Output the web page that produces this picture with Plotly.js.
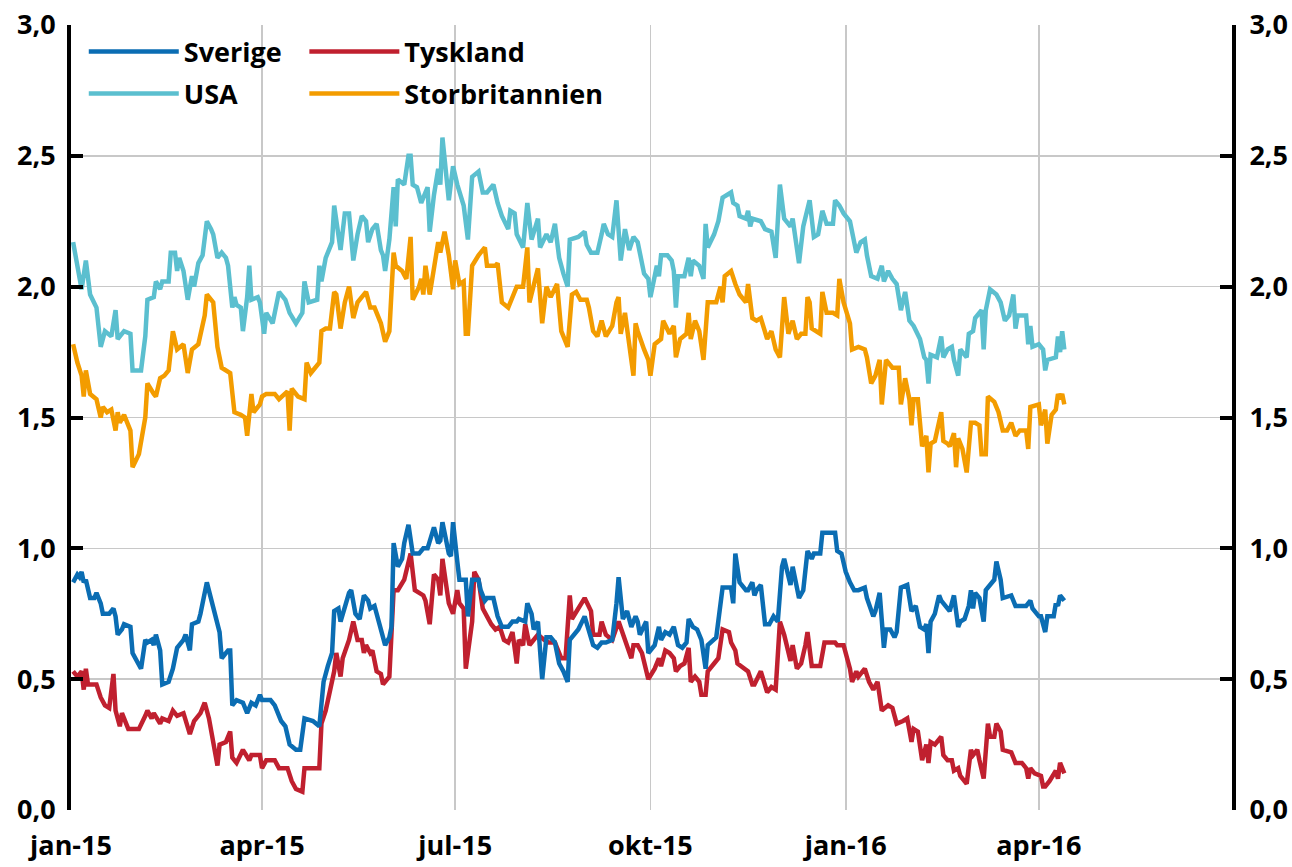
<!DOCTYPE html>
<html><head><meta charset="utf-8">
<script src="https://cdn.plot.ly/plotly-3.0.1.min.js"></script>
<style>html,body{margin:0;padding:0;background:#fff}#chart{width:1292px;height:867px}</style>
</head><body><div id="chart"></div>
<script>
// Day offsets counted from 2015-01-01, values in percent
const startDate = Date.UTC(2015, 0, 1);
const seriesNames = ['Sverige', 'Tyskland', 'USA', 'Storbritannien'];
const seriesColors = ['#0b6db3', '#c0202f', '#5bbfcf', '#f39c00'];
const tickDates = ['2015-01-01', '2015-04-01', '2015-07-01', '2015-10-01', '2016-01-01', '2016-04-01'];
const tickLabels = ['jan-15', 'apr-15', 'jul-15', 'okt-15', 'jan-16', 'apr-16'];
const yTicks = [0, 0.5, 1, 1.5, 2, 2.5, 3];

const usaDay = [
1,3,5,7,9,12,14,16,19,21,
22,25,28,29,33,35,36,39,40,42,
43,46,47,49,50,51,53,55,57,58,
60,62,64,66,67,69,71,73,74,76,
77,78,80,81,83,84,85,88,89,91,
92,95,98,101,103,106,109,110,112,116,
117,118,120,123,124,127,129,131,133,135,
137,139,140,142,144,146,147,148,150,152,
153,154,157,159,160,161,163,165,168,169,
171,173,174,175,177,178,180,182,185,187,
189,192,194,196,199,201,203,206,207,209,
210,213,215,217,220,221,224,226,228,230,
232,234,235,239,242,243,245,248,250,251,
253,255,257,259,261,263,265,267,270,272,
273,275,276,277,278,281,283,284,285,286,
289,291,292,293,296,298,299,300,303,305,
307,311,312,314,315,318,319,320,321,325,
327,330,332,334,336,339,340,343,345,348,
350,352,354,356,359,360,362,364,367,370,
372,374,375,377,380,382,383,385,387,389,
391,393,395,397,400,402,403,404,405,408,
410,411,413,415,416,418,419,422,423,425,
426,429,430,431,433,436,438,440,442,444,
445,446,450,451,452,453,456,458,459,460,
464,465,466,467,468];
const usaVal = [
2.17,2.09,1.99,2.10,1.97,1.92,1.77,1.83,1.81,1.91,
1.80,1.83,1.82,1.68,1.68,1.81,1.95,1.96,2.02,1.99,
2.02,2.02,2.13,2.13,2.06,2.11,2.06,1.95,2.04,2.00,
2.09,2.12,2.25,2.22,2.20,2.11,2.13,2.11,2.08,1.92,
1.96,1.93,1.92,1.83,1.96,2.08,1.95,1.96,1.94,1.82,
1.90,1.86,1.98,1.95,1.90,1.86,1.90,2.02,1.94,1.95,
2.08,2.02,2.11,2.17,2.31,2.14,2.28,2.28,2.10,2.20,
2.27,2.25,2.17,2.22,2.24,2.14,2.12,2.06,2.18,2.38,
2.23,2.41,2.39,2.50,2.50,2.39,2.38,2.32,2.38,2.21,
2.35,2.45,2.39,2.57,2.42,2.33,2.46,2.39,2.31,2.18,
2.42,2.44,2.36,2.36,2.39,2.32,2.27,2.22,2.29,2.28,
2.20,2.15,2.32,2.18,2.26,2.15,2.20,2.17,2.24,2.11,
2.05,2.00,2.18,2.19,2.21,2.16,2.13,2.13,2.20,2.24,
2.20,2.19,2.33,2.10,2.22,2.14,2.19,2.17,2.05,2.03,
1.96,2.04,2.08,2.04,2.12,2.12,2.10,2.06,1.92,2.04,
2.04,2.11,2.04,2.10,2.08,2.03,2.24,2.15,2.20,2.25,
2.34,2.36,2.32,2.31,2.27,2.26,2.29,2.23,2.26,2.25,
2.22,2.21,2.11,2.39,2.26,2.23,2.26,2.09,2.23,2.33,
2.19,2.20,2.29,2.24,2.24,2.33,2.31,2.28,2.25,2.13,
2.17,2.18,2.12,2.04,2.03,2.08,2.02,2.06,2.03,2.01,
1.91,1.98,1.87,1.85,1.80,1.73,1.72,1.63,1.74,1.73,
1.81,1.73,1.76,1.77,1.72,1.66,1.76,1.73,1.82,1.83,
1.88,1.91,1.76,1.91,1.99,1.97,1.94,1.87,1.89,1.97,
1.84,1.89,1.89,1.78,1.85,1.77,1.78,1.76,1.68,1.72,
1.73,1.81,1.75,1.83,1.76];

const ukDay = [
1,3,5,6,7,9,12,14,15,17,
19,21,22,23,25,28,29,32,35,36,
39,40,42,44,46,48,50,53,55,57,
60,63,64,67,69,71,75,77,80,82,
83,85,86,89,90,92,96,98,102,103,
104,107,110,111,113,115,117,118,120,122,
124,125,127,129,131,133,135,139,141,143,
146,148,150,152,153,156,158,160,161,164,
165,166,167,169,171,173,174,176,178,180,
181,183,185,186,187,189,192,195,196,200,
201,203,206,208,210,213,215,216,218,220,
222,224,226,229,231,234,236,238,240,243,
244,246,248,250,252,255,257,258,259,261,
263,265,266,267,270,272,273,275,278,279,
282,284,285,287,290,291,292,294,296,298,
300,301,304,306,307,308,311,313,315,318,
319,321,323,325,328,330,332,334,336,338,
340,342,344,346,347,348,349,353,354,356,
359,361,362,364,367,368,371,374,375,377,
379,381,382,384,387,390,391,393,395,396,
397,399,401,403,404,405,407,410,411,413,
414,416,417,418,420,422,424,426,428,429,
431,432,435,437,439,441,443,445,447,450,
451,452,456,457,459,460,462,464,465,466,
467,468];
const ukVal = [
1.78,1.71,1.66,1.58,1.68,1.59,1.57,1.50,1.54,1.52,
1.53,1.45,1.52,1.48,1.51,1.45,1.31,1.36,1.50,1.63,
1.59,1.58,1.65,1.66,1.68,1.83,1.76,1.78,1.67,1.76,
1.78,1.89,1.97,1.94,1.77,1.69,1.67,1.52,1.51,1.50,
1.43,1.59,1.52,1.55,1.58,1.59,1.59,1.57,1.60,1.45,
1.61,1.58,1.57,1.71,1.67,1.69,1.71,1.83,1.84,1.84,
1.98,1.97,1.84,1.94,2.00,1.88,1.94,1.98,1.92,1.92,
1.86,1.79,1.83,2.13,2.08,2.06,2.03,2.19,1.95,2.00,
2.03,1.97,2.08,1.97,2.08,2.17,2.13,2.21,2.12,1.99,
2.10,2.01,2.02,1.82,1.82,2.08,2.12,2.15,2.08,2.08,
2.09,1.94,1.92,1.96,2.00,2.00,2.15,1.94,2.00,2.07,
1.86,2.00,1.96,2.01,1.83,1.77,1.97,1.98,1.95,1.95,
1.92,1.83,1.81,1.87,1.81,1.85,1.94,1.96,1.82,1.90,
1.78,1.66,1.86,1.83,1.76,1.72,1.66,1.78,1.80,1.87,
1.82,1.85,1.73,1.80,1.82,1.90,1.80,1.87,1.83,1.72,
1.94,1.94,1.94,2.00,1.94,2.04,2.06,2.01,1.97,1.94,
2.01,1.88,1.87,1.88,1.80,1.83,1.76,1.73,1.96,1.82,
1.87,1.80,1.82,1.82,1.96,1.94,1.84,1.82,1.98,1.90,
1.90,1.89,2.03,1.94,1.86,1.76,1.77,1.76,1.73,1.63,
1.66,1.72,1.55,1.72,1.69,1.69,1.55,1.65,1.57,1.47,
1.57,1.57,1.39,1.43,1.29,1.40,1.41,1.52,1.41,1.40,
1.39,1.44,1.31,1.42,1.38,1.29,1.48,1.48,1.47,1.36,
1.36,1.58,1.56,1.52,1.45,1.45,1.48,1.43,1.45,1.45,
1.38,1.54,1.55,1.47,1.53,1.40,1.51,1.53,1.59,1.57,
1.59,1.55];

const sverigeDay = [
1,3,4,5,6,7,9,11,12,14,
15,18,20,21,22,24,25,28,29,31,
33,35,36,38,39,40,42,43,46,48,
50,53,54,56,57,60,61,64,66,68,
70,71,74,75,76,78,81,83,85,87,
89,90,94,96,99,101,103,106,108,110,
114,117,118,119,121,123,124,126,127,129,
131,132,134,136,138,140,141,143,145,146,
148,150,151,152,154,156,157,159,161,164,
166,168,171,173,174,175,177,178,179,180,
182,183,186,187,189,192,193,195,196,199,
201,203,206,208,210,211,214,215,217,218,
220,222,224,226,228,230,232,234,235,239,
242,244,246,248,250,252,255,257,258,260,
262,264,266,267,268,271,272,275,277,278,
280,282,284,286,288,290,291,293,295,297,
299,300,303,304,307,311,312,313,315,318,
319,321,322,323,325,327,329,331,333,335,
336,339,340,343,345,347,349,350,353,354,
360,361,363,365,367,369,371,374,375,378,
379,381,383,384,386,388,389,391,394,396,
398,400,402,403,404,405,407,409,410,413,
414,416,418,419,421,423,424,425,426,428,
430,431,433,435,436,438,439,442,443,445,
448,450,452,453,456,457,459,460,463,464,
465,466,468];
const sverigeVal = [
0.87,0.90,0.89,0.91,0.87,0.88,0.81,0.81,0.83,0.79,
0.75,0.75,0.77,0.74,0.67,0.69,0.71,0.70,0.60,0.57,
0.54,0.65,0.64,0.65,0.63,0.67,0.61,0.48,0.49,0.54,
0.62,0.65,0.67,0.61,0.71,0.72,0.75,0.87,0.81,0.74,
0.68,0.58,0.61,0.61,0.40,0.42,0.41,0.37,0.41,0.40,
0.44,0.42,0.42,0.40,0.34,0.32,0.25,0.23,0.23,0.35,
0.34,0.32,0.43,0.49,0.55,0.60,0.76,0.77,0.72,0.77,
0.83,0.84,0.75,0.73,0.82,0.80,0.77,0.78,0.72,0.70,
0.63,0.66,0.70,1.02,0.93,0.96,1.02,1.09,0.98,0.98,
1.00,1.00,1.08,1.02,1.03,1.10,1.02,0.98,0.97,1.10,
0.95,0.88,0.88,0.74,0.88,0.88,0.84,0.80,0.81,0.81,
0.74,0.70,0.70,0.72,0.72,0.73,0.72,0.79,0.75,0.69,
0.72,0.50,0.66,0.66,0.64,0.56,0.53,0.49,0.65,0.69,
0.74,0.69,0.63,0.62,0.64,0.64,0.65,0.79,0.89,0.73,
0.76,0.70,0.74,0.72,0.67,0.72,0.60,0.63,0.70,0.65,
0.68,0.67,0.70,0.63,0.62,0.64,0.73,0.70,0.69,0.65,
0.54,0.63,0.65,0.66,0.85,0.85,0.79,0.98,0.87,0.84,
0.84,0.87,0.82,0.84,0.86,0.71,0.71,0.74,0.72,0.93,
0.96,0.86,0.93,0.81,0.84,0.99,0.96,0.98,0.98,1.06,
1.06,0.99,0.98,0.91,0.87,0.84,0.84,0.85,0.81,0.74,
0.76,0.83,0.62,0.69,0.69,0.66,0.68,0.85,0.86,0.76,
0.78,0.70,0.69,0.71,0.60,0.72,0.75,0.82,0.80,0.77,
0.76,0.82,0.70,0.72,0.73,0.78,0.84,0.77,0.83,0.81,
0.72,0.84,0.86,0.88,0.95,0.88,0.81,0.82,0.82,0.78,
0.78,0.78,0.80,0.77,0.74,0.74,0.68,0.74,0.74,0.79,
0.78,0.82,0.80];

const tysklandDay = [
1,3,5,6,7,8,12,14,16,18,
20,21,23,24,27,32,35,36,38,39,
42,43,46,48,50,53,56,58,61,63,
65,67,69,70,73,75,76,78,81,84,
85,89,90,92,96,98,102,104,106,109,
110,117,118,120,122,124,125,127,128,131,
133,135,137,138,139,141,142,144,146,147,
150,152,154,157,160,162,166,167,169,171,
173,174,175,177,178,180,182,183,185,186,
189,190,192,194,196,198,200,202,204,206,
208,210,211,213,214,216,217,220,223,225,
228,231,233,235,236,239,242,245,246,249,
250,252,255,258,260,262,264,265,267,269,
272,275,277,278,280,282,284,285,287,289,
291,292,294,296,297,299,300,303,305,307,
310,311,313,314,317,319,321,322,325,328,
330,332,334,336,339,340,342,344,346,347,
349,353,355,360,361,364,367,368,370,371,
374,376,378,380,382,385,387,389,392,394,
396,397,399,401,403,404,405,407,408,410,
411,413,415,416,418,419,422,424,425,427,
428,430,432,433,435,436,438,439,443,445,
448,450,451,452,454,457,458,459,461,464,
465,466,468];
const tysklandVal = [
0.53,0.51,0.53,0.46,0.54,0.48,0.48,0.43,0.40,0.39,
0.52,0.38,0.32,0.37,0.31,0.31,0.36,0.38,0.35,0.37,
0.33,0.35,0.34,0.38,0.36,0.37,0.29,0.34,0.37,0.41,
0.35,0.25,0.17,0.25,0.26,0.30,0.20,0.18,0.23,0.19,
0.21,0.21,0.16,0.19,0.19,0.16,0.16,0.11,0.08,0.07,
0.16,0.16,0.33,0.38,0.45,0.53,0.60,0.51,0.58,0.65,
0.72,0.65,0.65,0.60,0.63,0.60,0.61,0.53,0.52,0.48,
0.51,0.84,0.84,0.88,0.98,0.84,0.82,0.80,0.71,0.90,
0.88,0.82,0.96,0.86,0.79,0.75,0.84,0.79,0.77,0.54,
0.72,0.91,0.88,0.77,0.74,0.71,0.69,0.70,0.65,0.64,
0.68,0.56,0.65,0.63,0.71,0.63,0.64,0.67,0.65,0.64,
0.64,0.58,0.58,0.82,0.73,0.77,0.81,0.76,0.67,0.67,
0.72,0.67,0.65,0.72,0.67,0.63,0.58,0.63,0.63,0.60,
0.50,0.54,0.58,0.55,0.61,0.60,0.58,0.53,0.55,0.56,
0.62,0.49,0.51,0.49,0.44,0.44,0.53,0.56,0.58,0.69,
0.68,0.64,0.61,0.56,0.54,0.53,0.48,0.48,0.53,0.45,
0.47,0.46,0.72,0.67,0.57,0.63,0.54,0.56,0.63,0.68,
0.55,0.55,0.64,0.64,0.63,0.63,0.54,0.49,0.53,0.51,
0.54,0.49,0.46,0.49,0.38,0.40,0.39,0.33,0.34,0.35,
0.26,0.31,0.30,0.19,0.25,0.18,0.26,0.25,0.26,0.28,
0.21,0.19,0.19,0.15,0.16,0.13,0.10,0.23,0.21,0.23,
0.19,0.12,0.33,0.28,0.28,0.33,0.30,0.23,0.22,0.18,
0.18,0.16,0.12,0.16,0.14,0.13,0.09,0.09,0.11,0.15,
0.12,0.18,0.14];

function toDate(d) { return new Date(startDate + d * 86400000).toISOString().slice(0, 10); }

const fontFamily = '"Open Sans", "DejaVu Sans", sans-serif';
const textFont = { family: fontFamily, size: 27, color: '#000', weight: 700 };

function lineTrace(i, days, vals, legendId, rank) {
  return {
    type: 'scatter', mode: 'lines', name: seriesNames[i],
    x: days.map(toDate), y: vals,
    line: { color: seriesColors[i], width: 4.5 },
    legend: legendId, legendgroup: seriesNames[i], legendrank: rank,
    hoverinfo: 'skip'
  };
}

const traces = [
  lineTrace(3, ukDay, ukVal, 'legend2', 2),
  lineTrace(2, usaDay, usaVal, 'legend', 2),
  lineTrace(1, tysklandDay, tysklandVal, 'legend2', 1),
  lineTrace(0, sverigeDay, sverigeVal, 'legend', 1),
  { type: 'scatter', x: [], y: [], yaxis: 'y2', showlegend: false, hoverinfo: 'skip' }
];

const yAxisBase = {
  range: [0, 3], tickvals: yTicks, tickformat: '.1f',
  showline: true, linecolor: '#000', linewidth: 4,
  ticks: 'inside', ticklen: 12, tickwidth: 4, tickcolor: '#000',
  zeroline: false, tickfont: textFont, fixedrange: true
};

const legendBase = {
  xref: 'paper', yref: 'paper', xanchor: 'left', yanchor: 'top',
  bgcolor: 'rgba(0,0,0,0)', borderwidth: 0, font: textFont,
  itemwidth: 90, tracegroupgap: 4, orientation: 'v', itemclick: false, itemdoubleclick: false
};

const layout = {
  width: 1292, height: 867,
  margin: { l: 71, r: 60, t: 25, b: 57, pad: 0 },
  paper_bgcolor: '#ffffff', plot_bgcolor: '#ffffff',
  separators: ', ',
  font: textFont,
  showlegend: true,
  xaxis: {
    type: 'date', range: ['2015-01-01', '2016-07-01'],
    tickmode: 'array', tickvals: tickDates, ticktext: tickLabels,
    showgrid: true, gridcolor: '#c8c8c8', gridwidth: 1.6,
    showline: false, zeroline: false, ticks: '',
    ticklabelstandoff: 17, tickfont: textFont, fixedrange: true
  },
  yaxis: Object.assign({}, yAxisBase, {
    showgrid: true, gridcolor: '#c8c8c8', gridwidth: 1.6, ticklabelstandoff: 6
  }),
  yaxis2: Object.assign({}, yAxisBase, {
    overlaying: 'y', side: 'right', showgrid: false, ticklabelstandoff: 8
  }),
  legend: Object.assign({}, legendBase, { x: 0.011, y: 0.997 }),
  legend2: Object.assign({}, legendBase, { x: 0.201, y: 0.997 })
};

Plotly.newPlot('chart', traces, layout, { displayModeBar: false, staticPlot: true });
</script>
</body></html>
